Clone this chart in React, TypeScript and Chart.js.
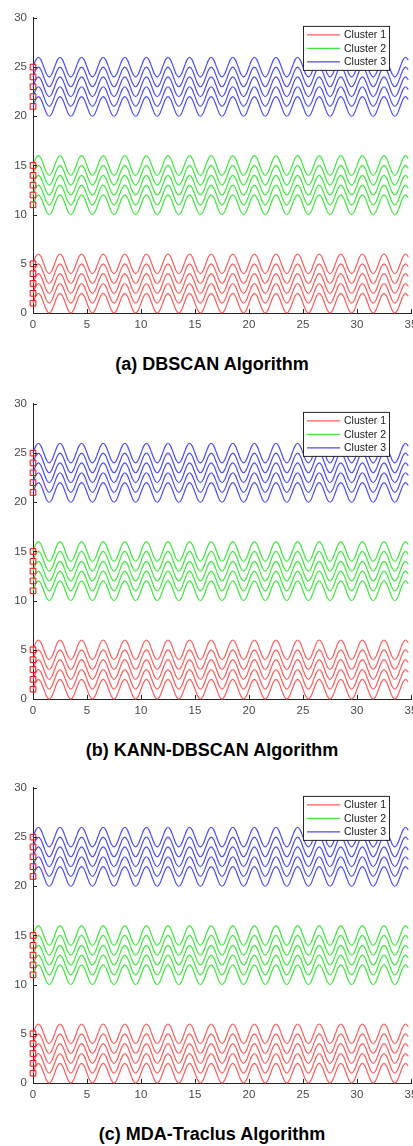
import React, { useEffect, useRef } from "react";
import { Chart, registerables } from "chart.js";

Chart.register(...registerables);

// ---------------- data ----------------
const PANEL_TITLES = [
  "(a) DBSCAN Algorithm",
  "(b) KANN-DBSCAN Algorithm",
  "(c) MDA-Traclus Algorithm",
];
const CLUSTER_LABELS = ["Cluster 1", "Cluster 2", "Cluster 3"];
// starting level (value at x = 0) of each trajectory in a cluster
const CLUSTER_1_OFFSETS = [1, 2, 3, 4, 5];
const CLUSTER_2_OFFSETS = [11, 12, 13, 14, 15];
const CLUSTER_3_OFFSETS = [21, 22, 23, 24, 25];
// one period of the wave (period = 2), read every 0.25 on x
const WAVE_ONE_PERIOD = [0, 0.71, 1, 0.71, 0, -0.71, -1, -0.71];
const X_SAMPLE_STEP = 0.25;
const X_SAMPLE_COUNT = 140; // x from 0 to 34.75
const X_TICKS = [0, 5, 10, 15, 20, 25, 30, 35];
const Y_TICKS = [0, 5, 10, 15, 20, 25, 30];

// ---------------- styles ----------------
const CLUSTER_COLORS = ["#ff5c5c", "#40e840", "#4d4dff"];
const MARKER_COLOR = "#ff0000";
const AXIS_COLOR = "#262626";
const TICK_TEXT_COLOR = "#4a4a4a";
const FONT_FAMILY = '"Liberation Sans", Arial, Helvetica, sans-serif';

function trajectory(offset: number) {
  const pts: { x: number; y: number }[] = [];
  for (let i = 0; i < X_SAMPLE_COUNT; i++) {
    pts.push({ x: i * X_SAMPLE_STEP, y: offset + WAVE_ONE_PERIOD[i % WAVE_ONE_PERIOD.length] });
  }
  return pts;
}

const inwardTicks = {
  id: "inwardTicks",
  afterDraw(chart: any) {
    const { ctx, chartArea } = chart;
    const xs = chart.scales.x;
    const ys = chart.scales.y;
    ctx.save();
    ctx.strokeStyle = AXIS_COLOR;
    ctx.lineWidth = 1;
    ctx.beginPath();
    X_TICKS.forEach((v) => {
      const px = Math.round(xs.getPixelForValue(v)) + 0.5;
      ctx.moveTo(px, chartArea.bottom);
      ctx.lineTo(px, chartArea.bottom - 4);
    });
    Y_TICKS.forEach((v) => {
      const py = Math.round(ys.getPixelForValue(v)) + 0.5;
      ctx.moveTo(chartArea.left, py);
      ctx.lineTo(chartArea.left + 4, py);
    });
    ctx.stroke();
    ctx.restore();
  },
};

const boxLegend = {
  id: "boxLegend",
  afterDraw(chart: any) {
    const { ctx, chartArea } = chart;
    const left = 303;
    const top = chartArea.top + 8;
    const w = 86;
    const h = 44;
    ctx.save();
    ctx.fillStyle = "#ffffff";
    ctx.fillRect(left, top, w, h);
    ctx.strokeStyle = "#262626";
    ctx.lineWidth = 1;
    ctx.strokeRect(left + 0.5, top + 0.5, w, h);
    ctx.font = `10.5px ${FONT_FAMILY}`;
    ctx.textBaseline = "middle";
    ctx.textAlign = "left";
    CLUSTER_LABELS.forEach((lab, i) => {
      const cy = top + 9 + i * 13.5;
      ctx.strokeStyle = CLUSTER_COLORS[i];
      ctx.lineWidth = 1.2;
      ctx.beginPath();
      ctx.moveTo(307, cy);
      ctx.lineTo(340, cy);
      ctx.stroke();
      ctx.fillStyle = "#1a1a1a";
      ctx.fillText(lab, 344, cy + 0.5);
    });
    ctx.restore();
  },
};

function Panel({ top, title }: { top: number; title: string }) {
  const ref = useRef<HTMLCanvasElement | null>(null);

  useEffect(() => {
    if (!ref.current) return;
    const groups = [CLUSTER_1_OFFSETS, CLUSTER_2_OFFSETS, CLUSTER_3_OFFSETS];
    const datasets: any[] = [];
    groups.forEach((offs, g) => {
      offs.forEach((o) => {
        datasets.push({
          type: "line",
          label: CLUSTER_LABELS[g],
          data: trajectory(o),
          borderColor: CLUSTER_COLORS[g],
          borderWidth: 1.2,
          pointRadius: 0,
          fill: false,
          cubicInterpolationMode: "monotone",
          clip: false,
          order: 2,
        });
      });
    });
    const markers = [...CLUSTER_1_OFFSETS, ...CLUSTER_2_OFFSETS, ...CLUSTER_3_OFFSETS].map((o) => ({
      x: 0,
      y: o,
    }));
    datasets.push({
      type: "scatter",
      label: "start",
      data: markers,
      pointStyle: "rect",
      pointRadius: 4,
      pointBorderColor: MARKER_COLOR,
      pointBackgroundColor: "rgba(0,0,0,0)",
      pointBorderWidth: 1,
      showLine: false,
      clip: false,
      order: 0,
    });

    const chart = new Chart(ref.current, {
      type: "line",
      data: { datasets },
      options: {
        animation: false,
        responsive: false,
        devicePixelRatio: 1,
        layout: { padding: { top: 10, right: 29, bottom: 0, left: 0 } },
        plugins: { legend: { display: false }, tooltip: { enabled: false } },
        scales: {
          x: {
            type: "linear",
            min: 0,
            max: 35,
            afterBuildTicks: (s: any) => {
              s.ticks = X_TICKS.map((v) => ({ value: v }));
            },
            afterFit: (s: any) => {
              s.height = 32;
            },
            grid: { display: false, drawTicks: false },
            border: { display: true, color: AXIS_COLOR, width: 1 },
            ticks: {
              color: TICK_TEXT_COLOR,
              font: { family: FONT_FAMILY, size: 11.5 },
              padding: 5,
              maxRotation: 0,
              autoSkip: false,
            },
          },
          y: {
            type: "linear",
            min: 0,
            max: 30,
            afterBuildTicks: (s: any) => {
              s.ticks = Y_TICKS.map((v) => ({ value: v }));
            },
            afterFit: (s: any) => {
              s.width = 33;
            },
            grid: { display: false, drawTicks: false },
            border: { display: true, color: AXIS_COLOR, width: 1 },
            ticks: {
              color: TICK_TEXT_COLOR,
              font: { family: FONT_FAMILY, size: 11.5 },
              padding: 6,
              autoSkip: false,
            },
          },
        },
      },
      plugins: [inwardTicks, boxLegend],
    } as any);
    return () => chart.destroy();
  }, []);

  return (
    <>
      <canvas
        ref={ref}
        width={440}
        height={340}
        style={{ position: "absolute", left: 0, top, width: 440, height: 340 }}
      />
      <div
        style={{
          position: "absolute",
          left: 0,
          width: 424,
          top: top + 348,
          textAlign: "center",
          fontFamily: FONT_FAMILY,
          fontWeight: "bold",
          fontSize: 18,
          lineHeight: "22px",
          color: "#000",
          whiteSpace: "nowrap",
        }}
      >
        {title}
      </div>
    </>
  );
}

const PANEL_TOPS = [5, 391, 775];

export default function App() {
  return (
    <div
      style={{
        position: "absolute",
        left: 0,
        top: 0,
        width: 413,
        height: 1146,
        overflow: "hidden",
        background: "#fff",
      }}
    >
      {PANEL_TITLES.map((t, i) => (
        <Panel key={i} top={PANEL_TOPS[i]} title={t} />
      ))}
    </div>
  );
}
